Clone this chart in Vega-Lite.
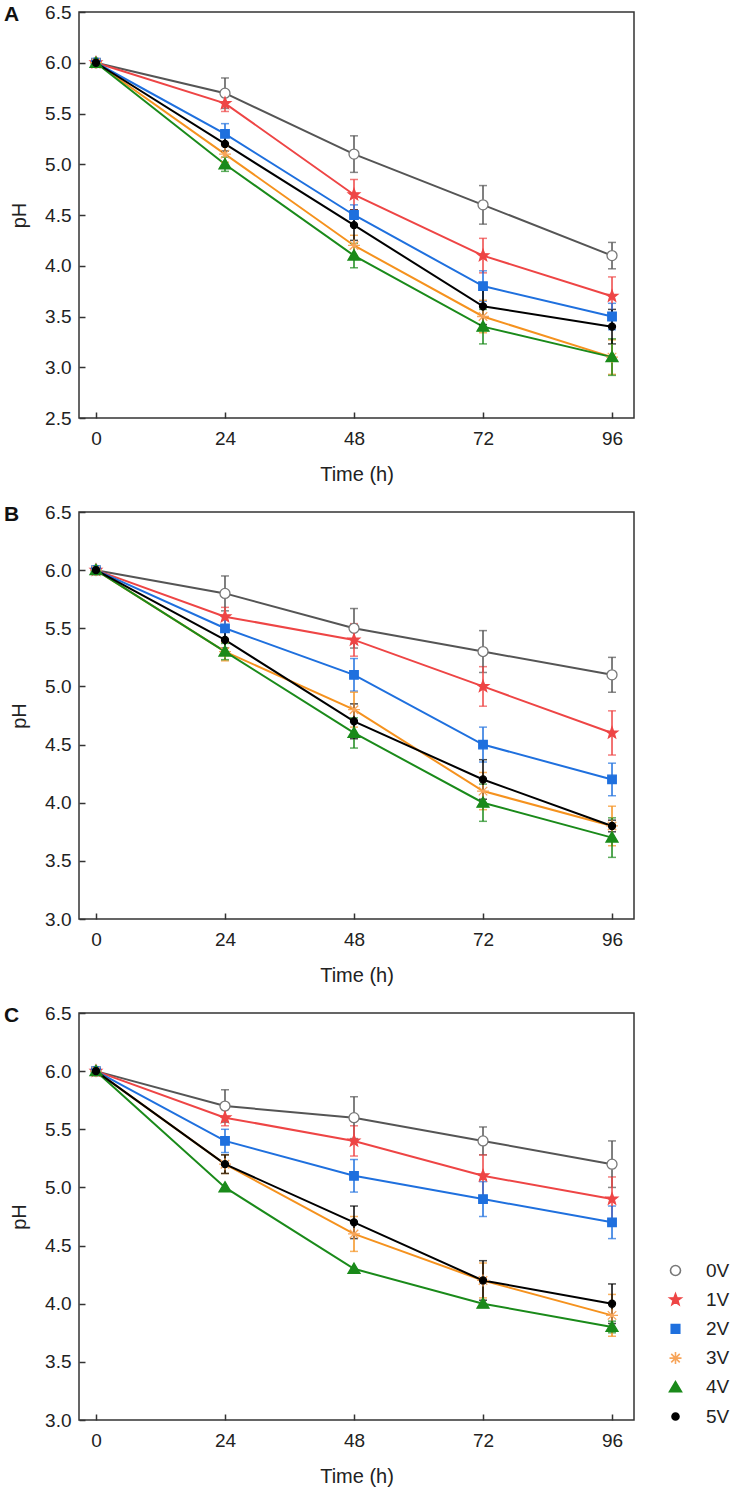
{
  "$schema": "https://vega.github.io/schema/vega-lite/v6.json",
  "padding": {"left": 3, "top": 2, "right": 5, "bottom": 5},
  "bounds": "flush",
  "spacing": 94,
  "config": {
    "font": "Liberation Sans",
    "view": {"stroke": "#333333", "strokeWidth": 1.5},
    "axis": {"grid": false, "domain": false, "tickSize": -6, "tickColor": "#333333", "tickWidth": 1.5, "labelFontSize": 19, "labelColor": "#222222", "titleFontSize": 20, "titleFontWeight": "normal", "titleColor": "#222222", "labelFlush": false, "labelOverlap": false},
    "axisX": {"labelPadding": 17, "titlePadding": 16},
    "axisY": {"labelPadding": 14, "titlePadding": 15},
    "title": {"fontSize": 21, "fontWeight": "bold", "color": "#111111", "anchor": "start", "frame": "group", "offset": 0, "baseline": "alphabetic"},
    "legend": {"orient": "none", "legendX": 587, "legendY": 1249, "padding": 0, "symbolSize": 100, "symbolStrokeWidth": 1.6, "labelFontSize": 19, "labelColor": "#222222", "labelOffset": 21, "rowPadding": 9.2}
  },
  "datasets": {
    "ph": [
      {"p":"A","s":"0V","t":0,"ph":6.0,"err":0},{"p":"A","s":"0V","t":24,"ph":5.7,"err":0.15},{"p":"A","s":"0V","t":48,"ph":5.1,"err":0.18},{"p":"A","s":"0V","t":72,"ph":4.6,"err":0.19},{"p":"A","s":"0V","t":96,"ph":4.1,"err":0.13},
      {"p":"A","s":"1V","t":0,"ph":6.0,"err":0},{"p":"A","s":"1V","t":24,"ph":5.6,"err":0.08},{"p":"A","s":"1V","t":48,"ph":4.7,"err":0.15},{"p":"A","s":"1V","t":72,"ph":4.1,"err":0.17},{"p":"A","s":"1V","t":96,"ph":3.7,"err":0.19},
      {"p":"A","s":"2V","t":0,"ph":6.0,"err":0},{"p":"A","s":"2V","t":24,"ph":5.3,"err":0.1},{"p":"A","s":"2V","t":48,"ph":4.5,"err":0.1},{"p":"A","s":"2V","t":72,"ph":3.8,"err":0.15},{"p":"A","s":"2V","t":96,"ph":3.5,"err":0.13},
      {"p":"A","s":"3V","t":0,"ph":6.0,"err":0},{"p":"A","s":"3V","t":24,"ph":5.1,"err":0.08},{"p":"A","s":"3V","t":48,"ph":4.2,"err":0.1},{"p":"A","s":"3V","t":72,"ph":3.5,"err":0.16},{"p":"A","s":"3V","t":96,"ph":3.1,"err":0.17},
      {"p":"A","s":"4V","t":0,"ph":6.0,"err":0},{"p":"A","s":"4V","t":24,"ph":5.0,"err":0.07},{"p":"A","s":"4V","t":48,"ph":4.1,"err":0.12},{"p":"A","s":"4V","t":72,"ph":3.4,"err":0.17},{"p":"A","s":"4V","t":96,"ph":3.1,"err":0.18},
      {"p":"A","s":"5V","t":0,"ph":6.0,"err":0},{"p":"A","s":"5V","t":24,"ph":5.2,"err":0.07},{"p":"A","s":"5V","t":48,"ph":4.4,"err":0.15},{"p":"A","s":"5V","t":72,"ph":3.6,"err":0.18},{"p":"A","s":"5V","t":96,"ph":3.4,"err":0.17},
      {"p":"B","s":"0V","t":0,"ph":6.0,"err":0},{"p":"B","s":"0V","t":24,"ph":5.8,"err":0.15},{"p":"B","s":"0V","t":48,"ph":5.5,"err":0.17},{"p":"B","s":"0V","t":72,"ph":5.3,"err":0.18},{"p":"B","s":"0V","t":96,"ph":5.1,"err":0.15},
      {"p":"B","s":"1V","t":0,"ph":6.0,"err":0},{"p":"B","s":"1V","t":24,"ph":5.6,"err":0.08},{"p":"B","s":"1V","t":48,"ph":5.4,"err":0.14},{"p":"B","s":"1V","t":72,"ph":5.0,"err":0.17},{"p":"B","s":"1V","t":96,"ph":4.6,"err":0.19},
      {"p":"B","s":"2V","t":0,"ph":6.0,"err":0},{"p":"B","s":"2V","t":24,"ph":5.5,"err":0.1},{"p":"B","s":"2V","t":48,"ph":5.1,"err":0.14},{"p":"B","s":"2V","t":72,"ph":4.5,"err":0.15},{"p":"B","s":"2V","t":96,"ph":4.2,"err":0.14},
      {"p":"B","s":"3V","t":0,"ph":6.0,"err":0},{"p":"B","s":"3V","t":24,"ph":5.3,"err":0.08},{"p":"B","s":"3V","t":48,"ph":4.8,"err":0.15},{"p":"B","s":"3V","t":72,"ph":4.1,"err":0.16},{"p":"B","s":"3V","t":96,"ph":3.8,"err":0.17},
      {"p":"B","s":"4V","t":0,"ph":6.0,"err":0},{"p":"B","s":"4V","t":24,"ph":5.3,"err":0.07},{"p":"B","s":"4V","t":48,"ph":4.6,"err":0.13},{"p":"B","s":"4V","t":72,"ph":4.0,"err":0.16},{"p":"B","s":"4V","t":96,"ph":3.7,"err":0.17},
      {"p":"B","s":"5V","t":0,"ph":6.0,"err":0},{"p":"B","s":"5V","t":24,"ph":5.4,"err":0.07},{"p":"B","s":"5V","t":48,"ph":4.7,"err":0.15},{"p":"B","s":"5V","t":72,"ph":4.2,"err":0.17},{"p":"B","s":"5V","t":96,"ph":3.8,"err":0.05},
      {"p":"C","s":"0V","t":0,"ph":6.0,"err":0},{"p":"C","s":"0V","t":24,"ph":5.7,"err":0.14},{"p":"C","s":"0V","t":48,"ph":5.6,"err":0.18},{"p":"C","s":"0V","t":72,"ph":5.4,"err":0.12},{"p":"C","s":"0V","t":96,"ph":5.2,"err":0.2},
      {"p":"C","s":"1V","t":0,"ph":6.0,"err":0},{"p":"C","s":"1V","t":24,"ph":5.6,"err":0.07},{"p":"C","s":"1V","t":48,"ph":5.4,"err":0.13},{"p":"C","s":"1V","t":72,"ph":5.1,"err":0.18},{"p":"C","s":"1V","t":96,"ph":4.9,"err":0.19},
      {"p":"C","s":"2V","t":0,"ph":6.0,"err":0},{"p":"C","s":"2V","t":24,"ph":5.4,"err":0.1},{"p":"C","s":"2V","t":48,"ph":5.1,"err":0.14},{"p":"C","s":"2V","t":72,"ph":4.9,"err":0.15},{"p":"C","s":"2V","t":96,"ph":4.7,"err":0.14},
      {"p":"C","s":"3V","t":0,"ph":6.0,"err":0},{"p":"C","s":"3V","t":24,"ph":5.2,"err":0.08},{"p":"C","s":"3V","t":48,"ph":4.6,"err":0.15},{"p":"C","s":"3V","t":72,"ph":4.2,"err":0.15},{"p":"C","s":"3V","t":96,"ph":3.9,"err":0.18},
      {"p":"C","s":"4V","t":0,"ph":6.0,"err":0},{"p":"C","s":"4V","t":24,"ph":5.0,"err":0},{"p":"C","s":"4V","t":48,"ph":4.3,"err":0},{"p":"C","s":"4V","t":72,"ph":4.0,"err":0},{"p":"C","s":"4V","t":96,"ph":3.8,"err":0.05},
      {"p":"C","s":"5V","t":0,"ph":6.0,"err":0},{"p":"C","s":"5V","t":24,"ph":5.2,"err":0.08},{"p":"C","s":"5V","t":48,"ph":4.7,"err":0.14},{"p":"C","s":"5V","t":72,"ph":4.2,"err":0.17},{"p":"C","s":"5V","t":96,"ph":4.0,"err":0.17}
    ]
  },
  "data": {"name": "ph"},
  "vconcat": [
    {
      "width": 555, "height": 406,
      "title": {"text": "A", "dx": -75, "dy": 26},
      "transform": [{"filter": "datum.p === 'A'"}],
      "encoding": {
        "x": {"field": "t", "type": "quantitative", "scale": {"domain": [-3.16, 100.09], "nice": false, "zero": false}, "axis": {"values": [0, 24, 48, 72, 96], "title": "Time (h)"}},
        "y": {"field": "ph", "type": "quantitative", "scale": {"domain": [2.5, 6.5], "nice": false, "zero": false}, "axis": {"values": [2.5, 3.0, 3.5, 4.0, 4.5, 5.0, 5.5, 6.0, 6.5], "format": ".1f", "title": "pH"}}
      },
      "layer": [
        {"mark": {"type": "line", "strokeWidth": 2},
         "encoding": {"color": {"field": "s", "type": "nominal", "legend": null, "scale": {"domain": ["5V","4V","3V","2V","1V","0V"], "range": ["#000000","#1a8a1a","#f5921e","#1f70de","#ee4545","#555555"]}}}},
        {"transform": [{"filter": "datum.err > 0"}],
         "mark": {"type": "errorbar", "ticks": {"size": 8, "thickness": 1.5}, "thickness": 1.5},
         "encoding": {"yError": {"field": "err"}, "color": {"field": "s", "type": "nominal", "legend": null}}},
        {"mark": {"type": "point", "filled": true, "opacity": 1, "size": 100, "strokeWidth": 1.3},
         "encoding": {
           "shape": {"field": "s", "type": "nominal", "title": null, "scale": {"domain": ["0V","1V","2V","3V","4V","5V"], "range": ["M-1,0A1,1,0,1,0,1,0A1,1,0,1,0,-1,0Z","M0,-1.2L0.294,-0.405L1.141,-0.371L0.476,0.155L0.705,0.971L0,0.5L-0.705,0.971L-0.476,0.155L-1.141,-0.371L-0.294,-0.405Z","M-0.85,-0.85L0.85,-0.85L0.85,0.85L-0.85,0.85Z","M-1.2,0L1.2,0M0,-1.2L0,1.2M-0.85,-0.85L0.85,0.85M-0.85,0.85L0.85,-0.85","M0,-1.15L1.2,0.9L-1.2,0.9Z","M-0.7,0A0.7,0.7,0,1,0,0.7,0A0.7,0.7,0,1,0,-0.7,0Z"]},
             "legend": {"title": null, "encode": {"symbols": {"shape": {"value": {"expr": "datum.value === '0V' ? 'M-5.3,0L-1,0M1,0L5.3,0M-1,0A1,1,0,1,0,1,0A1,1,0,1,0,-1,0Z' : datum.value === '1V' ? 'M-5.3,0L5.3,0M0,-1.2L0.294,-0.405L1.141,-0.371L0.476,0.155L0.705,0.971L0,0.5L-0.705,0.971L-0.476,0.155L-1.141,-0.371L-0.294,-0.405Z' : datum.value === '2V' ? 'M-5.3,0L5.3,0M-0.85,-0.85L0.85,-0.85L0.85,0.85L-0.85,0.85Z' : datum.value === '3V' ? 'M-5.3,0L5.3,0M-1.2,0L1.2,0M0,-1.2L0,1.2M-0.85,-0.85L0.85,0.85M-0.85,0.85L0.85,-0.85' : datum.value === '4V' ? 'M-5.3,0L5.3,0M0,-1.15L1.2,0.9L-1.2,0.9Z' : 'M-5.3,0L5.3,0M-0.7,0A0.7,0.7,0,1,0,0.7,0A0.7,0.7,0,1,0,-0.7,0Z'"}}}}}},
           "fill": {"field": "s", "type": "nominal", "title": null, "scale": {"domain": ["0V","1V","2V","3V","4V","5V"], "range": ["#ffffff","#ee4545","#1f70de","transparent","#1a8a1a","#000000"]},
             "legend": {"title": null, "encode": {"symbols": {"shape": {"value": {"expr": "datum.value === '0V' ? 'M-5.3,0L-1,0M1,0L5.3,0M-1,0A1,1,0,1,0,1,0A1,1,0,1,0,-1,0Z' : datum.value === '1V' ? 'M-5.3,0L5.3,0M0,-1.2L0.294,-0.405L1.141,-0.371L0.476,0.155L0.705,0.971L0,0.5L-0.705,0.971L-0.476,0.155L-1.141,-0.371L-0.294,-0.405Z' : datum.value === '2V' ? 'M-5.3,0L5.3,0M-0.85,-0.85L0.85,-0.85L0.85,0.85L-0.85,0.85Z' : datum.value === '3V' ? 'M-5.3,0L5.3,0M-1.2,0L1.2,0M0,-1.2L0,1.2M-0.85,-0.85L0.85,0.85M-0.85,0.85L0.85,-0.85' : datum.value === '4V' ? 'M-5.3,0L5.3,0M0,-1.15L1.2,0.9L-1.2,0.9Z' : 'M-5.3,0L5.3,0M-0.7,0A0.7,0.7,0,1,0,0.7,0A0.7,0.7,0,1,0,-0.7,0Z'"}}}}}},
           "stroke": {"field": "s", "type": "nominal", "title": null, "scale": {"domain": ["0V","1V","2V","3V","4V","5V"], "range": ["#777777","#ee4545","#1f70de","#f7a55a","#1a8a1a","#000000"]},
             "legend": {"title": null, "encode": {"symbols": {"shape": {"value": {"expr": "datum.value === '0V' ? 'M-5.3,0L-1,0M1,0L5.3,0M-1,0A1,1,0,1,0,1,0A1,1,0,1,0,-1,0Z' : datum.value === '1V' ? 'M-5.3,0L5.3,0M0,-1.2L0.294,-0.405L1.141,-0.371L0.476,0.155L0.705,0.971L0,0.5L-0.705,0.971L-0.476,0.155L-1.141,-0.371L-0.294,-0.405Z' : datum.value === '2V' ? 'M-5.3,0L5.3,0M-0.85,-0.85L0.85,-0.85L0.85,0.85L-0.85,0.85Z' : datum.value === '3V' ? 'M-5.3,0L5.3,0M-1.2,0L1.2,0M0,-1.2L0,1.2M-0.85,-0.85L0.85,0.85M-0.85,0.85L0.85,-0.85' : datum.value === '4V' ? 'M-5.3,0L5.3,0M0,-1.15L1.2,0.9L-1.2,0.9Z' : 'M-5.3,0L5.3,0M-0.7,0A0.7,0.7,0,1,0,0.7,0A0.7,0.7,0,1,0,-0.7,0Z'"}}}}}}
         }}
      ]
    },
    {
      "width": 555, "height": 407,
      "title": {"text": "B", "dx": -75, "dy": 26},
      "transform": [{"filter": "datum.p === 'B'"}],
      "encoding": {
        "x": {"field": "t", "type": "quantitative", "scale": {"domain": [-3.16, 100.09], "nice": false, "zero": false}, "axis": {"values": [0, 24, 48, 72, 96], "title": "Time (h)"}},
        "y": {"field": "ph", "type": "quantitative", "scale": {"domain": [3.0, 6.5], "nice": false, "zero": false}, "axis": {"values": [3.0, 3.5, 4.0, 4.5, 5.0, 5.5, 6.0, 6.5], "format": ".1f", "title": "pH"}}
      },
      "layer": [
        {"mark": {"type": "line", "strokeWidth": 2},
         "encoding": {"color": {"field": "s", "type": "nominal", "legend": null}}},
        {"transform": [{"filter": "datum.err > 0"}],
         "mark": {"type": "errorbar", "ticks": {"size": 8, "thickness": 1.5}, "thickness": 1.5},
         "encoding": {"yError": {"field": "err"}, "color": {"field": "s", "type": "nominal", "legend": null}}},
        {"mark": {"type": "point", "filled": true, "opacity": 1, "size": 100, "strokeWidth": 1.3},
         "encoding": {
           "shape": {"field": "s", "type": "nominal", "title": null},
           "fill": {"field": "s", "type": "nominal", "title": null},
           "stroke": {"field": "s", "type": "nominal", "title": null}
         }}
      ]
    },
    {
      "width": 555, "height": 407,
      "title": {"text": "C", "dx": -75, "dy": 26},
      "transform": [{"filter": "datum.p === 'C'"}],
      "encoding": {
        "x": {"field": "t", "type": "quantitative", "scale": {"domain": [-3.16, 100.09], "nice": false, "zero": false}, "axis": {"values": [0, 24, 48, 72, 96], "title": "Time (h)"}},
        "y": {"field": "ph", "type": "quantitative", "scale": {"domain": [3.0, 6.5], "nice": false, "zero": false}, "axis": {"values": [3.0, 3.5, 4.0, 4.5, 5.0, 5.5, 6.0, 6.5], "format": ".1f", "title": "pH"}}
      },
      "layer": [
        {"mark": {"type": "line", "strokeWidth": 2},
         "encoding": {"color": {"field": "s", "type": "nominal", "legend": null}}},
        {"transform": [{"filter": "datum.err > 0"}],
         "mark": {"type": "errorbar", "ticks": {"size": 8, "thickness": 1.5}, "thickness": 1.5},
         "encoding": {"yError": {"field": "err"}, "color": {"field": "s", "type": "nominal", "legend": null}}},
        {"mark": {"type": "point", "filled": true, "opacity": 1, "size": 100, "strokeWidth": 1.3},
         "encoding": {
           "shape": {"field": "s", "type": "nominal", "title": null},
           "fill": {"field": "s", "type": "nominal", "title": null},
           "stroke": {"field": "s", "type": "nominal", "title": null}
         }}
      ]
    }
  ]
}
